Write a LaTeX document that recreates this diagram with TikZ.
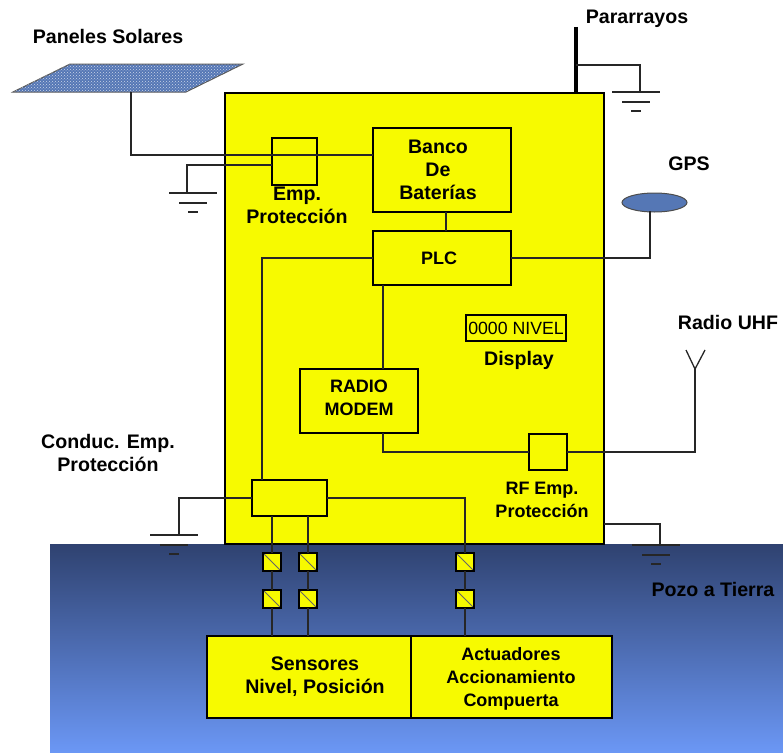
\documentclass[tikz,border=0pt]{standalone}
\usepackage{fontspec}
\setmainfont{Liberation Sans}
\usepackage{xcolor}
\usetikzlibrary{patterns,positioning,calc,shapes.geometric}
\definecolor{amarillo}{HTML}{F7FA00}
\definecolor{tierraAlta}{HTML}{2F4270}
\definecolor{tierraBaja}{HTML}{6B97F5}
\definecolor{panelAzul}{HTML}{5577B5}

\begin{document}
\begin{tikzpicture}[
    x=1pt, y=-1pt,
    caja/.style={draw, fill=amarillo, line width=1.4pt, inner sep=0pt, outer sep=0pt, align=center, font=\fontsize{19.6}{23}\selectfont\bfseries},
    sello/.style={draw, fill=amarillo, line width=1.4pt, inner sep=0pt, outer sep=0pt, minimum size=18pt,
        path picture={\draw[line width=1pt, black!60] (path picture bounding box.north west) -- (path picture bounding box.south east);}},
    etiqueta/.style={align=center, font=\fontsize{19.6}{23}\selectfont\bfseries, inner sep=0pt},
    chica/.style={align=center, font=\fontsize{18}{23}\selectfont\bfseries, inner sep=0pt},
    cable/.style={line width=1.3pt, black!85},
    tierra/.pic={
        \draw[cable] (-24,0) -- (24,0);
        \draw[cable] (-14,10) -- (14,10);
        \draw[cable] (-5,19) -- (5,19);
    }
]
    \useasboundingbox (0,0) rectangle (783,752);

    % suelo y gabinete
    \shade[top color=tierraAlta, bottom color=tierraBaja] (50,544) rectangle (783,752);
    \node[caja, minimum width=379pt, minimum height=451pt] (gabinete) at (414.5,318.5) {};

    % paneles y gps
    \draw[line width=1pt, draw=gray!70!black, fill=panelAzul] (13,92) -- (70,64) -- (243,64) -- (186,92) -- cycle;
    \fill[pattern=crosshatch dots, pattern color=white!70!panelAzul] (13,92) -- (70,64) -- (243,64) -- (186,92) -- cycle;
    \node[draw=black!70, line width=1pt, fill=panelAzul, ellipse, minimum width=65pt, minimum height=19pt, inner sep=0pt, outer sep=0pt] (gps) at (654.5,202.5) {};
    \coordinate (panel) at (131,92);
    \coordinate (gpsbase) at (650,211);

    % cajas interiores
    \node[caja, minimum width=138pt, minimum height=84pt] (banco) at (442,170) {};
    \node[caja, minimum width=138pt, minimum height=54pt] (plc) at (442,258) {};
    \node[caja, minimum width=118pt, minimum height=64pt] (modem) at (359,401) {};
    \node[caja, minimum width=100pt, minimum height=26pt, font=\fontsize{17.7}{20}\selectfont] (display) at (516,328) {0000 NIVEL};
    \node[caja, minimum width=38pt, minimum height=36pt] (rf) at (548,452) {};
    \node[caja, minimum width=45pt, minimum height=47pt] (emp) at (294.5,161.5) {};
    \node[caja, minimum width=75pt, minimum height=36pt] (conduc) at (289.5,498) {};
    \node[caja, minimum width=204pt, minimum height=82pt] (sensores) at (309,677) {};
    \node[caja, minimum width=201pt, minimum height=82pt] (actuadores) at (511.5,677) {};
    \coordinate (empizq) at (272,165);
    \coordinate (bancoizq) at (373,155);

    % sellos
    \node[sello] (s1) at (272,562) {};
    \node[sello] (s2) at (272,599) {};
    \node[sello] (s3) at (308,562) {};
    \node[sello] (s4) at (308,599) {};
    \node[sello] (s5) at (465,562) {};
    \node[sello] (s6) at (465,599) {};

    % puntos de tierra
    \coordinate (t1) at (193,193);
    \coordinate (t2) at (636,92);
    \coordinate (t3) at (174,535);
    \coordinate (t4) at (656,545);
    \pic at (t1) {tierra};
    \pic at (t2) {tierra};
    \pic at (t3) {tierra};
    \pic at (t4) {tierra};

    % cableado
    \draw[cable] (panel) |- (bancoizq);
    \draw[cable] (empizq) -| (187,193);
    \draw[cable] (446,212) -- (446,231);
    \draw[cable] (plc.west) -| (262,480);
    \draw[cable] (plc.east) -| (gpsbase);
    \draw[cable] (383,285) -- (383,369);
    \draw[cable] (383,433) |- (rf.west);
    \draw[cable] (rf.east) -| (695,369);
    \draw[cable] (695,369) -- (686,350);
    \draw[cable] (695,369) -- (705,350);
    \draw[cable] (conduc.west) -| (179,535);
    \draw[cable] (conduc.east) -| (s5.north);
    \draw[cable] (604,524) -| (660,545);
    \draw[line width=3.4pt] (576,27) -- (576,93);
    \draw[cable] (576,65) -| (640,92);
    \draw[cable] (s1.north |- conduc.south) -- (s1.north);
    \draw[cable] (s3.north |- conduc.south) -- (s3.north);
    \draw[cable] (s1) -- (s2);
    \draw[cable] (s3) -- (s4);
    \draw[cable] (s5) -- (s6);
    \draw[cable] (s2.south) -- (s2.south |- sensores.north);
    \draw[cable] (s4.south) -- (s4.south |- sensores.north);
    \draw[cable] (s6.south) -- (s6.south |- actuadores.north);

    % textos
    \node[etiqueta] (lpanel) at (108,36) {Paneles Solares};
    \node[etiqueta] (lpara) at (637,19) {Pararrayos};
    \node[etiqueta] (lgps) at (689,164) {GPS};
    \node[etiqueta] (lbanco) at (438,170) {Banco\\De\\Baterías};
    \node[chica] (lplc) at (439,258) {PLC};
    \node[etiqueta] (lemp) at (297,205) {Emp.\\Protección};
    \node[etiqueta] (ldisp) at (519,360) {Display};
    \node[etiqueta] (lradio) at (728,322) {Radio UHF};
    \node[etiqueta] (lconduc) at (108,453) {Conduc. Emp.\\Protección};
    \node[chica] (lrf) at (542,500) {RF Emp.\\Protección};
    \node[etiqueta] (lpozo) at (713,589) {Pozo a Tierra};
    \node[chica] (lmodem) at (359,398) {RADIO\\MODEM};
    \node[etiqueta] (lsensores) at (315,677) {Sensores\\Nivel, Posición};
    \node[chica] (lactua) at (511,679) {Actuadores\\Accionamiento\\Compuerta};
\end{tikzpicture}
\end{document}
